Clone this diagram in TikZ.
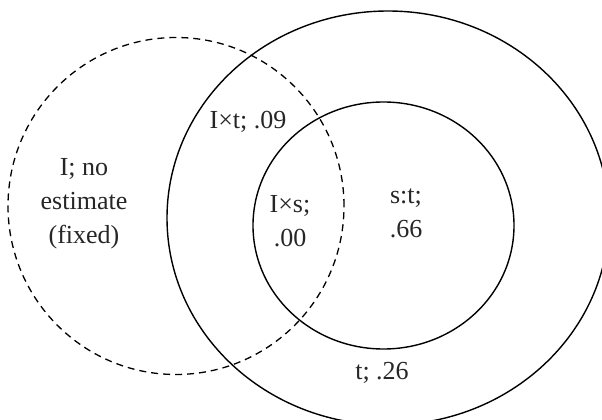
\documentclass[tikz,border=0pt]{standalone}
\usepackage{fontspec}
\setmainfont{Liberation Serif}
\begin{document}
\begin{tikzpicture}[x=1pt,y=1pt,
  ring/.style={draw=black,line width=1.4pt},
  dashring/.style={draw=black,line width=1.3pt,dash pattern=on 7pt off 5pt},
  lbl/.style={align=center,inner sep=0pt,text=black!85,font=\fontsize{26}{34}\selectfont}]
\useasboundingbox (0,0) rectangle (602,420);
\clip (0,0) rectangle (602,420);
\draw[dashring] (176,214) ellipse [x radius=168, y radius=168.5];
\draw[ring] (388,202) ellipse [x radius=221, y radius=207];
\draw[ring] (383.5,194.5) ellipse [x radius=130.5, y radius=123.5];
\node[lbl] (inone) at (84,216) {I; no\\estimate\\(fixed)};
\node[lbl] (ixt) at (248,298) {I×t; .09};
\node[lbl] (ixs) at (290,199) {I×s;\\.00};
\node[lbl] (st) at (406,207) {s:t;\\.66};
\node[lbl] (t) at (382,47) {t; .26};
\end{tikzpicture}
\end{document}
